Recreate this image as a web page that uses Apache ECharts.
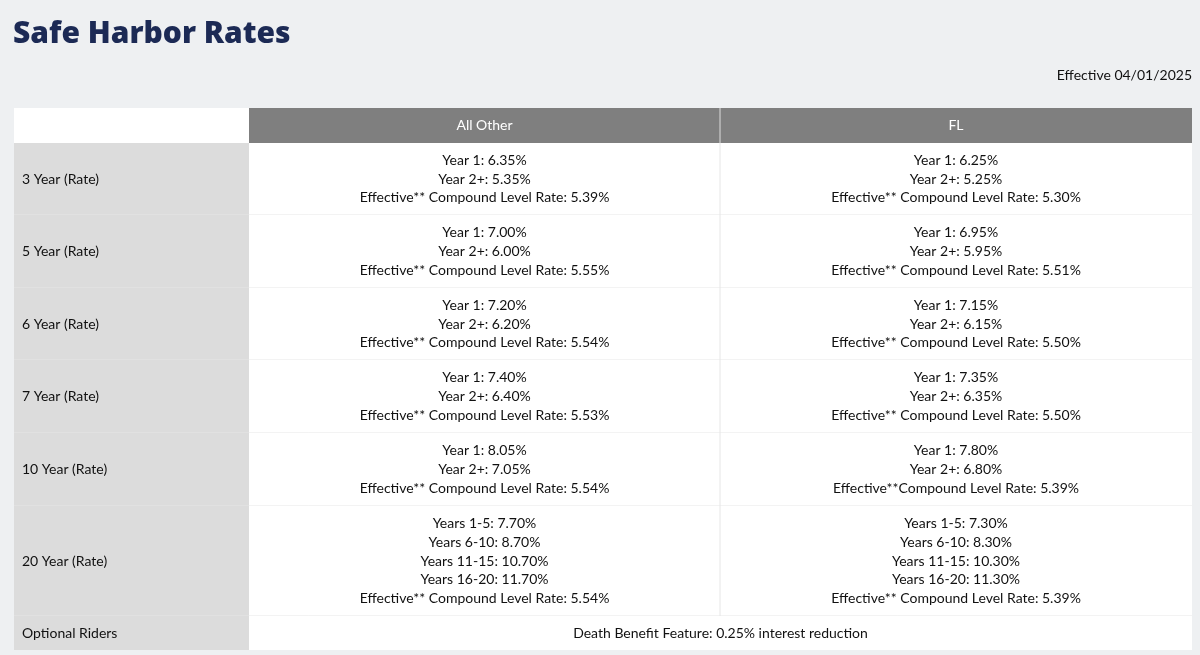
<!DOCTYPE html>
<html><head><meta charset="utf-8">
<script src="https://cdn.jsdelivr.net/npm/echarts@6/dist/echarts.min.js"></script>
<style>html,body{margin:0;padding:0;background:#eef0f2}#c{width:1200px;height:655px}</style>
</head><body><div id="c"></div>
<script>
const title = "Safe Harbor Rates";
const effective = "Effective 04/01/2025";
const columns = ["All Other", "FL"];
const rowLabels = ["3 Year (Rate)", "5 Year (Rate)", "6 Year (Rate)", "7 Year (Rate)", "10 Year (Rate)", "20 Year (Rate)"];
const allOther = [
  ["Year 1: 6.35%", "Year 2+: 5.35%", "Effective** Compound Level Rate: 5.39%"],
  ["Year 1: 7.00%", "Year 2+: 6.00%", "Effective** Compound Level Rate: 5.55%"],
  ["Year 1: 7.20%", "Year 2+: 6.20%", "Effective** Compound Level Rate: 5.54%"],
  ["Year 1: 7.40%", "Year 2+: 6.40%", "Effective** Compound Level Rate: 5.53%"],
  ["Year 1: 8.05%", "Year 2+: 7.05%", "Effective** Compound Level Rate: 5.54%"],
  ["Years 1-5: 7.70%", "Years 6-10: 8.70%", "Years 11-15: 10.70%", "Years 16-20: 11.70%", "Effective** Compound Level Rate: 5.54%"]
];
const fl = [
  ["Year 1: 6.25%", "Year 2+: 5.25%", "Effective** Compound Level Rate: 5.30%"],
  ["Year 1: 6.95%", "Year 2+: 5.95%", "Effective** Compound Level Rate: 5.51%"],
  ["Year 1: 7.15%", "Year 2+: 6.15%", "Effective** Compound Level Rate: 5.50%"],
  ["Year 1: 7.35%", "Year 2+: 6.35%", "Effective** Compound Level Rate: 5.50%"],
  ["Year 1: 7.80%", "Year 2+: 6.80%", "Effective**Compound Level Rate: 5.39%"],
  ["Years 1-5: 7.30%", "Years 6-10: 8.30%", "Years 11-15: 10.30%", "Years 16-20: 11.30%", "Effective** Compound Level Rate: 5.39%"]
];
const riderLabel = "Optional Riders";
const riderText = "Death Benefit Feature: 0.25% interest reduction";

const FONT = "Lato, 'Noto Sans', sans-serif";
const X0 = 14, X1 = 249, X2 = 720, X3 = 1192;
const headerTop = 108, headerH = 35;
const rowH = [72, 73, 72, 73, 73, 110];
const riderH = 34;
const LH = 18.7;
const g = [];
g.push({type:'text', left:13, top:19, style:{text:title, font:"800 30px 'Open Sans', sans-serif", fill:'#1c2a55'}});
g.push({type:'text', right:8, top:68, style:{text:effective, font:"14px "+FONT, fill:'#111'}});
g.push({type:'rect', shape:{x:X0,y:headerTop,width:X1-X0,height:headerH}, style:{fill:'#fff'}});
g.push({type:'rect', shape:{x:X1,y:headerTop,width:X3-X1,height:headerH}, style:{fill:'#7f7f7f'}});
g.push({type:'line', shape:{x1:X2,y1:headerTop,x2:X2,y2:headerTop+headerH}, style:{stroke:'#ddd',lineWidth:1}});
[[X1,X2],[X2,X3]].forEach((c,i)=>g.push({type:'text', x:(c[0]+c[1])/2, y:headerTop+headerH/2,
  style:{text:columns[i], font:"14px "+FONT, fill:'#fff', align:'center', verticalAlign:'middle'}}));
let y = headerTop + headerH;
rowLabels.forEach((lab,i)=>{
  const h = rowH[i];
  g.push({type:'rect', shape:{x:X0,y:y,width:X1-X0,height:h}, style:{fill:'#dcdcdc'}});
  g.push({type:'rect', shape:{x:X1,y:y,width:X3-X1,height:h}, style:{fill:'#fff'}});
  g.push({type:'line', shape:{x1:X0,y1:y+h,x2:X3,y2:y+h}, style:{stroke:'#e6e6e6',lineWidth:1}});
  g.push({type:'line', shape:{x1:X2,y1:y,x2:X2,y2:y+h}, style:{stroke:'#e6e6e6',lineWidth:1}});
  g.push({type:'text', x:22, y:y+h/2, style:{text:lab, font:"14px "+FONT, fill:'#111', verticalAlign:'middle'}});
  [[allOther[i],X1,X2],[fl[i],X2,X3]].forEach(([lines,a,b])=>{
    const n = lines.length, start = y + h/2 - (n-1)*LH/2;
    lines.forEach((t,k)=>g.push({type:'text', x:(a+b)/2, y:start+k*LH,
      style:{text:t, font:"14px "+FONT, fill:'#111', align:'center', verticalAlign:'middle'}}));
  });
  y += h;
});
g.push({type:'rect', shape:{x:X0,y:y,width:X1-X0,height:riderH}, style:{fill:'#dcdcdc'}});
g.push({type:'rect', shape:{x:X1,y:y,width:X3-X1,height:riderH}, style:{fill:'#fff'}});
g.push({type:'text', x:22, y:y+riderH/2, style:{text:riderLabel, font:"14px "+FONT, fill:'#111', verticalAlign:'middle'}});
g.push({type:'text', x:(X1+X3)/2, y:y+riderH/2, style:{text:riderText, font:"14px "+FONT, fill:'#111', align:'center', verticalAlign:'middle'}});

const chart = echarts.init(document.getElementById('c'));
chart.setOption({backgroundColor:'#eef0f2', animation:false, graphic:{elements:g}});
</script></body></html>
